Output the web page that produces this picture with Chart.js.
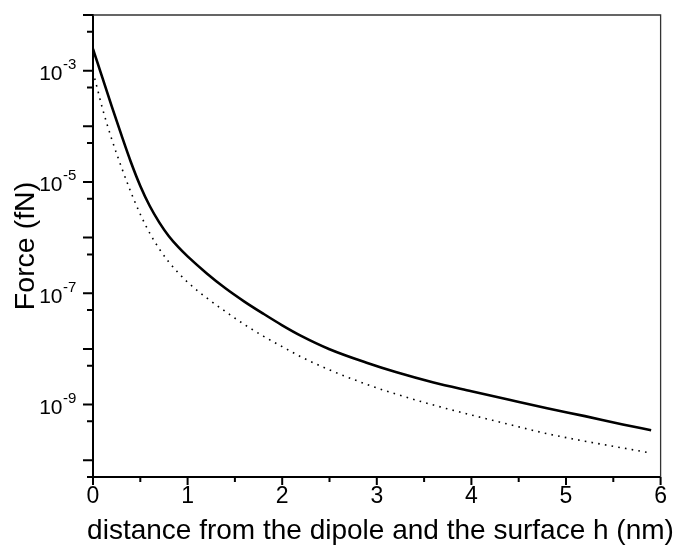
<!DOCTYPE html>
<html>
<head>
<meta charset="utf-8">
<script src="https://cdn.jsdelivr.net/npm/chart.js@4.4.0/dist/chart.umd.min.js"></script>
<style>
  html, body { margin: 0; padding: 0; background: #fff; }
  #wrap { width: 673px; height: 549px; }
</style>
</head>
<body>
<div id="wrap"><canvas id="forceChart" width="673" height="549"></canvas></div>
<script>
const distances = [0, 0.05, 0.1, 0.2, 0.3, 0.4, 0.5, 0.6, 0.7, 0.8, 0.9, 1.0,
                   1.2, 1.4, 1.6, 1.8, 2.0, 2.2, 2.5, 2.9, 3.2, 3.6, 4.0, 4.4, 4.8, 5.2, 5.6, 5.9];

// solid curve (fN)
const forceSolid = [2.45e-3, 1.35e-3, 7.4e-4, 2.24e-4, 7.0e-5, 2.29e-5, 8.5e-6, 3.7e-6, 1.88e-6, 1.07e-6, 6.8e-7, 4.6e-7,
                    2.3e-7, 1.23e-7, 7.1e-8, 4.3e-8, 2.66e-8, 1.72e-8, 9.9e-9, 5.6e-9, 3.85e-9, 2.5e-9,
                    1.74e-9, 1.22e-9, 8.6e-10, 6.2e-10, 4.4e-10, 3.47e-10];

// dotted curve (fN)
const forceDotted = [9.5e-4, 4.47e-4, 2.09e-4, 5.75e-5, 1.86e-5, 6.6e-6, 2.63e-6, 1.2e-6, 6.3e-7, 3.67e-7, 2.34e-7, 1.58e-7,
                     8.3e-8, 4.7e-8, 2.75e-8, 1.7e-8, 1.1e-8, 7.2e-9, 4.2e-9, 2.29e-9, 1.55e-9, 9.8e-10,
                     6.5e-10, 4.4e-10, 3.0e-10, 2.2e-10, 1.66e-10, 1.35e-10];

// axes
const xTickValues = [0, 1, 2, 3, 4, 5, 6];
const xMinorValues = [0.5, 1.5, 2.5, 3.5, 4.5, 5.5];
const yMajorExps = [-10, -9, -8, -7, -6, -5, -4, -3, -2];
const yLabelExps = [-9, -7, -5, -3];
const yMinorValues = [5e-11, 5e-10, 5e-9, 5e-8, 5e-7, 5e-6, 5e-5, 5e-4, 5e-3];
const xTitle = 'distance from the dipole and the surface h (nm)';

const FONT = '"Liberation Sans", Arial, sans-serif';

// tick marks, frame, 10^n labels and x title
const axisDecor = {
    id: 'axisDecor',
    afterDraw(chart) {
        const { ctx, chartArea: a, scales: { x, y } } = chart;
        ctx.save();
        ctx.strokeStyle = '#000';
        ctx.lineWidth = 2;
        ctx.beginPath();
        yMajorExps.forEach(e => {
            const py = y.getPixelForValue(Math.pow(10, e));
            ctx.moveTo(a.left - 10, py); ctx.lineTo(a.left, py);
        });
        yMinorValues.forEach(v => {
            const py = y.getPixelForValue(v);
            ctx.moveTo(a.left - 6, py); ctx.lineTo(a.left, py);
        });
        xTickValues.forEach(v => {
            const px = x.getPixelForValue(v);
            ctx.moveTo(px, a.bottom); ctx.lineTo(px, a.bottom + 8);
        });
        xMinorValues.forEach(v => {
            const px = x.getPixelForValue(v);
            ctx.moveTo(px, a.bottom); ctx.lineTo(px, a.bottom + 5);
        });
        ctx.stroke();

        // thin frame on top and right
        ctx.strokeStyle = '#333';
        ctx.lineWidth = 1.3;
        ctx.beginPath();
        ctx.moveTo(a.left, a.top);
        ctx.lineTo(a.right, a.top);
        ctx.lineTo(a.right, a.bottom);
        ctx.stroke();

        // y labels with superscript exponent
        ctx.fillStyle = '#000';
        ctx.textBaseline = 'alphabetic';
        yLabelExps.forEach(e => {
            const py = y.getPixelForValue(Math.pow(10, e));
            ctx.font = '21px ' + FONT;
            ctx.textAlign = 'right';
            ctx.fillText('10', a.left - 30.5, py + 9.5);
            ctx.font = '15px ' + FONT;
            ctx.textAlign = 'left';
            ctx.fillText(String(e), a.left - 30, py - 1.5);
        });

        // x title, wider than the plot so drawn here without a maxWidth
        ctx.font = '28px ' + FONT;
        ctx.textAlign = 'center';
        ctx.textBaseline = 'middle';
        ctx.fillText(xTitle, 380.5, 531);
        ctx.restore();
    }
};

const ctx = document.getElementById('forceChart').getContext('2d');
new Chart(ctx, {
    type: 'line',
    data: {
        datasets: [{
            data: distances.map((h, i) => ({ x: h, y: forceSolid[i] })),
            borderColor: '#000',
            borderWidth: 2.6,
            pointRadius: 0,
            cubicInterpolationMode: 'monotone',
            fill: false
        }, {
            data: distances.map((h, i) => ({ x: h, y: forceDotted[i] })),
            borderColor: '#000',
            borderWidth: 1.6,
            borderDash: [1.6, 5.2],
            pointRadius: 0,
            cubicInterpolationMode: 'monotone',
            fill: false
        }]
    },
    options: {
        responsive: false,
        devicePixelRatio: 1,
        animation: false,
        layout: { padding: { top: 15, right: 7, left: 0, bottom: 0 } },
        plugins: { legend: { display: false }, tooltip: { enabled: false } },
        scales: {
            x: {
                type: 'linear',
                min: 0,
                max: 6,
                afterBuildTicks: scale => { scale.ticks = xTickValues.map(v => ({ value: v })); },
                afterFit: scale => { scale.height = 72; },
                grid: { display: false, drawTicks: false },
                border: { display: true, color: '#000', width: 2 },
                ticks: { color: '#000', padding: 6, maxRotation: 0, font: { family: FONT, size: 23 } },
                title: { display: false }
            },
            y: {
                type: 'logarithmic',
                min: 5e-11,
                max: 1e-2,
                afterBuildTicks: scale => { scale.ticks = yMajorExps.map(e => ({ value: Math.pow(10, e) })); },
                afterFit: scale => { scale.width = 93; },
                grid: { display: false, drawTicks: false },
                border: { display: true, color: '#000', width: 2 },
                ticks: { display: false },
                title: {
                    display: true,
                    text: 'Force (fN)',
                    color: '#000',
                    font: { family: FONT, size: 28.5, lineHeight: 1 },
                    padding: { top: 12, bottom: 0 }
                }
            }
        }
    },
    plugins: [axisDecor]
});
</script>
</body>
</html>
